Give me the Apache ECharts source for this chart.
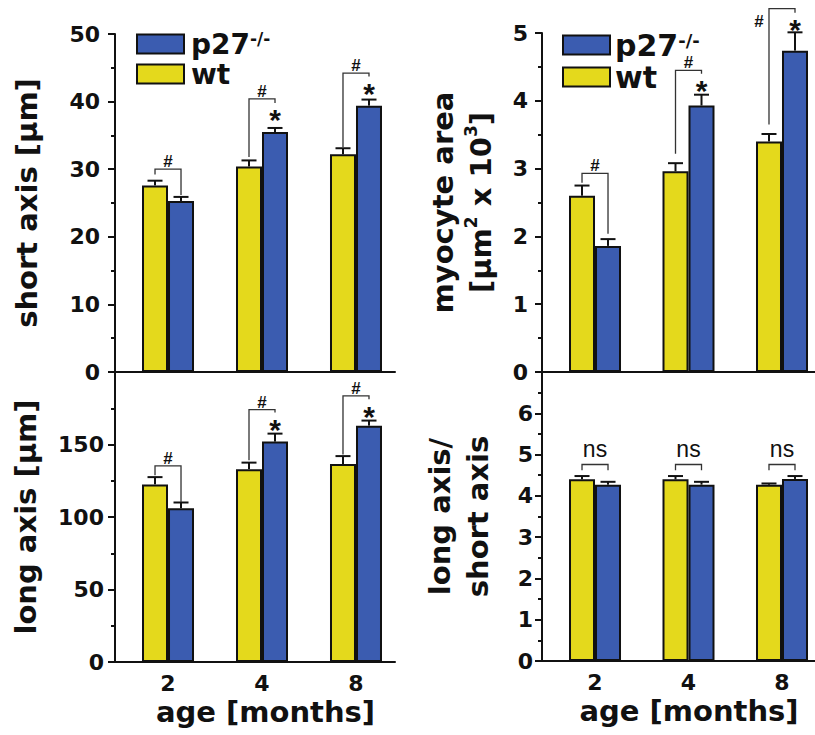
<!DOCTYPE html>
<html><head><meta charset="utf-8">
<script src="https://cdn.jsdelivr.net/npm/echarts@6/dist/echarts.min.js"></script>
<style>html,body{margin:0;padding:0;background:#fff}#c{width:815px;height:735px}</style>
</head><body><div id="c"></div>
<script>
// ---------- data ----------
const ages = ['2', '4', '8'];
const seriesNames = ['p27-/-', 'wt'];
const shortWt = [27.6, 30.4, 32.2];
const shortWtErr = [0.7, 0.9, 0.9];
const shortKo = [25.3, 35.5, 39.4];
const shortKoErr = [0.6, 0.6, 0.9];
const longWt = [122.5, 133, 136.5];
const longWtErr = [5, 4.5, 5.5];
const longKo = [106, 152, 163];
const longKoErr = [4, 5.5, 3.5];
const areaWt = [2.6, 2.96, 3.4];
const areaWtErr = [0.15, 0.12, 0.11];
const areaKo = [1.86, 3.93, 4.74];
const areaKoErr = [0.1, 0.16, 0.27];
const ratioWt = [4.4, 4.4, 4.27];
const ratioWtErr = [0.08, 0.08, 0.03];
const ratioKo = [4.27, 4.27, 4.41];
const ratioKoErr = [0.07, 0.07, 0.07];
// significance brackets: [bracket level, left leg end, right leg end]
const shortBrackets = [[30.0, 29.2, 26.2], [40.4, 31.8, 39.8], [44.2, 33.3, 43.7]];
const longBrackets = [[135.2, 128.8, 110.4], [174.1, 139.2, 172.0], [183.5, 143.1, 181.2]];
const areaBrackets = [[2.93, 2.79, 2.04], [4.45, 3.22, 4.40], [5.36, 3.65, 5.30]];
const ratioBrackets = [[4.76, 4.62, 4.62], [4.76, 4.62, 4.62], [4.76, 4.62, 4.62]];
const shortMarks = ['#', '#', '#'];
const shortStars = [false, true, true];
const longMarks = ['#', '#', '#'];
const longStars = [false, true, true];
const areaMarks = ['#', '#', '#'];
const areaStars = [false, true, true];
const areaMarkLeft = [false, false, true];
const ratioMarks = ['ns', 'ns', 'ns'];
const ratioStars = [false, false, false];

// ---------- style ----------
const FONT = 'DejaVu Sans';
const INK = '#111';
const YELLOW = '#E4D91C';
const BLUE = '#3B5CB0';
const HALF = 13; // half bar width

const grids = [
  { left: 115, top: 34, width: 280, height: 338 },
  { left: 115, top: 372, width: 280, height: 290 },
  { left: 542, top: 33, width: 273, height: 339 },
  { left: 542, top: 372, width: 273, height: 289 }
];
const xRanges = [[-0.564, 2.415], [-0.564, 2.415], [-0.567, 2.353], [-0.567, 2.353]];

function xAxis(idx, showLabels, namePad) {
  const [min, max] = xRanges[idx];
  return {
    type: 'value', gridIndex: idx, min, max,
    splitLine: { show: false }, axisTick: { show: false },
    axisLine: { show: true, onZero: false, lineStyle: { color: INK, width: 2 } },
    axisLabel: showLabels ? {
      show: true, margin: 10, fontSize: 22, fontWeight: 'bold', fontFamily: FONT, color: INK,
      showMinLabel: false, showMaxLabel: false,
      formatter: v => { const i = Math.round(v); return (Math.abs(v - i) < 1e-6 && ages[i] !== undefined) ? ages[i] : ''; }
    } : { show: false },
    name: showLabels ? 'age [months]' : '',
    nameLocation: 'middle', nameGap: 35,
    nameTextStyle: { fontSize: 29, fontWeight: 'bold', fontFamily: FONT, color: INK, padding: [0, 0, 0, namePad] }
  };
}
function yAxis(idx, min, max, interval, name, nameGap, labelMargin, hideMax, rich) {
  return {
    type: 'value', gridIndex: idx, min, max, interval,
    splitLine: { show: false },
    axisLine: { show: true, onZero: false, lineStyle: { color: INK, width: 2 } },
    axisTick: { show: true, length: 7, lineStyle: { color: INK, width: 2 } },
    minorTick: { show: true, splitNumber: 2, length: 4, lineStyle: { color: INK, width: 2 } },
    axisLabel: { margin: labelMargin, fontSize: 22, fontWeight: 'bold', fontFamily: FONT, color: INK, showMaxLabel: !hideMax },
    name, nameLocation: 'middle', nameRotate: 90, nameGap,
    nameTextStyle: { fontSize: 29, fontWeight: 'bold', fontFamily: FONT, color: INK, lineHeight: 38, align: 'center', rich: rich || {} }
  };
}
function bars(idx, name, color, vals) {
  return {
    type: 'bar', name, xAxisIndex: idx, yAxisIndex: idx, barWidth: 26, barGap: '0%',
    itemStyle: { color, borderColor: INK, borderWidth: 2 }, silent: true,
    data: vals.map((v, i) => [i, v]), z: 2
  };
}
function errors(idx, wt, wtE, ko, koE) {
  const data = [];
  wt.forEach((v, i) => data.push([i, v, wtE[i], -1]));
  ko.forEach((v, i) => data.push([i, v, koE[i], 1]));
  return {
    type: 'custom', xAxisIndex: idx, yAxisIndex: idx, clip: false, silent: true, z: 3, data,
    renderItem: (params, api) => {
      const x = api.value(0), v = api.value(1), e = api.value(2), s = api.value(3);
      const b = api.coord([x, v]), t = api.coord([x, v + e]);
      const cx = b[0] + s * HALF;
      return { type: 'group', children: [
        { type: 'line', shape: { x1: cx, y1: b[1], x2: cx, y2: t[1] }, style: { stroke: INK, lineWidth: 2 } },
        { type: 'line', shape: { x1: cx - 7.5, y1: t[1], x2: cx + 7.5, y2: t[1] }, style: { stroke: INK, lineWidth: 2 } }
      ] };
    }
  };
}
function significance(idx, brackets, marks, stars, markLeft, isNs) {
  return {
    type: 'custom', xAxisIndex: idx, yAxisIndex: idx, clip: false, silent: true, z: 4,
    data: brackets.map((b, i) => [i, b[0], b[1], b[2]]),
    renderItem: (params, api) => {
      const i = params.dataIndex, x = api.value(0);
      const top = api.coord([x, api.value(1)]);
      const lb = api.coord([x, api.value(2)]);
      const rb = api.coord([x, api.value(3)]);
      const xl = top[0] - HALF, xr = top[0] + HALF;
      const children = [{
        type: 'polyline',
        shape: { points: [[xl, lb[1]], [xl, top[1]], [xr, top[1]], [xr, rb[1]]] },
        style: { stroke: '#333', lineWidth: 1.3, fill: null }
      }];
      const left = markLeft && markLeft[i];
      children.push({
        type: 'text',
        style: {
          text: marks[i],
          x: left ? xl - 10 : top[0],
          y: left ? top[1] + 13 : top[1] - (isNs ? 15 : 7.5),
          align: 'center', verticalAlign: 'middle',
          fill: INK,
          font: isNs ? 'normal 23px "Liberation Sans"' : 'bold 17px "Liberation Sans"'
        }
      });
      if (stars[i]) {
        children.push({
          type: 'text',
          style: { text: '*', x: xr, y: rb[1] + 17, align: 'center', verticalAlign: 'middle', fill: INK, font: 'bold 30px "Liberation Sans"' }
        });
      }
      return { type: 'group', children };
    }
  };
}
function legend(left, fontSize, supSize, pad) {
  return {
    left, top: 25, orient: 'vertical', data: seriesNames, icon: 'rect',
    itemWidth: 47, itemHeight: 19, itemGap: 2, selectedMode: false,
    formatter: n => n === 'p27-/-' ? 'p27{sup|-/-}' : n,
    textStyle: {
      fontSize, fontWeight: 'bold', fontFamily: FONT, color: INK, lineHeight: 27, padding: [0, 0, 0, pad],
      rich: { sup: { fontSize: supSize, fontWeight: 'bold', fontFamily: FONT, color: INK, verticalAlign: 'top', lineHeight: 17 } }
    }
  };
}

const supRich = { sup: { fontSize: 17, fontWeight: 'bold', fontFamily: FONT, color: INK, verticalAlign: 'top', lineHeight: 17 } };

const option = {
  backgroundColor: '#fff',
  animation: false,
  grid: grids,
  legend: [legend(131, 28, 17, 2), legend(557, 30, 18, 0)],
  xAxis: [xAxis(0, false, 0), xAxis(1, true, 21), xAxis(2, false, 0), xAxis(3, true, 21)],
  yAxis: [
    yAxis(0, 0, 50, 10, 'short axis [μm]', 69, 15, false),
    yAxis(1, 0, 200, 50, 'long axis [μm]', 70, 11, true),
    yAxis(2, 0, 5, 1, 'myocyte area\n[μm{sup|2} x 10{sup|3}]', 42, 14, false, supRich),
    yAxis(3, 0, 7, 1, 'long axis/\nshort axis', 45, 9, true)
  ],
  series: [
    bars(0, 'wt', YELLOW, shortWt), bars(0, 'p27-/-', BLUE, shortKo),
    errors(0, shortWt, shortWtErr, shortKo, shortKoErr),
    significance(0, shortBrackets, shortMarks, shortStars, null, false),
    bars(1, 'wt', YELLOW, longWt), bars(1, 'p27-/-', BLUE, longKo),
    errors(1, longWt, longWtErr, longKo, longKoErr),
    significance(1, longBrackets, longMarks, longStars, null, false),
    bars(2, 'wt', YELLOW, areaWt), bars(2, 'p27-/-', BLUE, areaKo),
    errors(2, areaWt, areaWtErr, areaKo, areaKoErr),
    significance(2, areaBrackets, areaMarks, areaStars, areaMarkLeft, false),
    bars(3, 'wt', YELLOW, ratioWt), bars(3, 'p27-/-', BLUE, ratioKo),
    errors(3, ratioWt, ratioWtErr, ratioKo, ratioKoErr),
    significance(3, ratioBrackets, ratioMarks, ratioStars, null, true)
  ]
};
const chart = echarts.init(document.getElementById('c'), null, { renderer: 'svg' });
chart.setOption(option);
</script>
</body></html>
